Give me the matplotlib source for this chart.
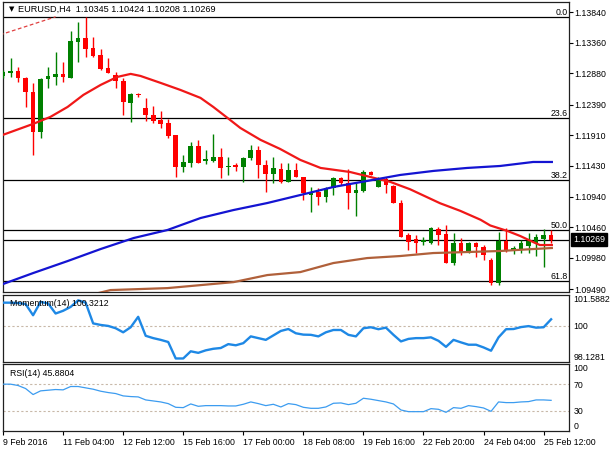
import numpy as np
import matplotlib
matplotlib.use("Agg")
import matplotlib.pyplot as plt
import matplotlib.transforms as mtransforms

# EURUSD H4 candles (open, high, low, close), one row per bar
opens = [1.12840, 1.12888, 1.12919, 1.12809, 1.12589, 1.11960, 1.12793, 1.12824, 1.12872, 1.12809,
         1.13376, 1.13439, 1.13286, 1.13171, 1.12967, 1.12856, 1.12761, 1.12416, 1.12557, 1.12338,
         1.12227, 1.12149, 1.12102, 1.11914, 1.11410, 1.11473, 1.11740, 1.11504, 1.11504, 1.11567,
         1.11410, 1.11441, 1.11410, 1.11551, 1.11677, 1.11441, 1.11300, 1.11378, 1.11174, 1.11362,
         1.11253, 1.10969, 1.11016, 1.10938, 1.11079, 1.11237, 1.11158, 1.11001, 1.11032, 1.11331,
         1.11095, 1.11221, 1.11111, 1.10843, 1.10340, 1.10277, 1.10230, 1.10214, 1.10434, 1.10356,
         1.09900, 1.10214, 1.10057, 1.10214, 1.10151, 1.09947, 1.09585, 1.10246, 1.10089, 1.10120,
         1.10167, 1.10214, 1.10277, 1.10345]
highs = [1.12935, 1.13124, 1.12982, 1.12824, 1.12730, 1.12809, 1.12982, 1.13219, 1.13061, 1.13549,
         1.13691, 1.13769, 1.13455, 1.13266, 1.13124, 1.12903, 1.12809, 1.12573, 1.12573, 1.12495,
         1.12369, 1.12290, 1.12165, 1.11914, 1.11599, 1.11803, 1.11835, 1.11677, 1.11929, 1.11709,
         1.11567, 1.11473, 1.11567, 1.11756, 1.11740, 1.11520, 1.11567, 1.11473, 1.11473, 1.11473,
         1.11253, 1.11095, 1.11079, 1.11095, 1.11253, 1.11253, 1.11378, 1.11158, 1.11362, 1.11345,
         1.11253, 1.11253, 1.11127, 1.10890, 1.10371, 1.10340, 1.10309, 1.10466, 1.10466, 1.10497,
         1.10371, 1.10293, 1.10230, 1.10230, 1.10183, 1.09978, 1.10387, 1.10450, 1.10167, 1.10261,
         1.10371, 1.10356, 1.10434, 1.10424]
lows = [1.12809, 1.12824, 1.12746, 1.12353, 1.11599, 1.11866, 1.12652, 1.12699, 1.12746, 1.12800,
        1.13061, 1.13137, 1.13137, 1.12935, 1.12888, 1.12652, 1.12227, 1.12118, 1.12510, 1.12133,
        1.12102, 1.12023, 1.11866, 1.11253, 1.11331, 1.11410, 1.11473, 1.11457, 1.11488, 1.11237,
        1.11284, 1.11347, 1.11174, 1.11520, 1.11237, 1.11016, 1.11158, 1.11158, 1.11174, 1.11253,
        1.10890, 1.10702, 1.10811, 1.10858, 1.10969, 1.11127, 1.10749, 1.10639, 1.11016, 1.11284,
        1.11095, 1.11001, 1.10843, 1.10309, 1.10104, 1.10057, 1.10183, 1.10199, 1.10183, 1.09900,
        1.09868, 1.10026, 1.10057, 1.09994, 1.09947, 1.09553, 1.09553, 1.10073, 1.10041, 1.10057,
        1.10057, 1.10010, 1.09837, 1.10208]
closes = [1.12903, 1.12919, 1.12809, 1.12589, 1.11960, 1.12793, 1.12840, 1.12872, 1.12824, 1.13392,
          1.13439, 1.13266, 1.13156, 1.12950, 1.12888, 1.12761, 1.12432, 1.12557, 1.12542, 1.12227,
          1.12133, 1.12086, 1.11898, 1.11410, 1.11488, 1.11740, 1.11473, 1.11536, 1.11567, 1.11394,
          1.11425, 1.11410, 1.11551, 1.11677, 1.11441, 1.11300, 1.11394, 1.11174, 1.11362, 1.11253,
          1.11001, 1.11001, 1.10938, 1.11079, 1.11237, 1.11158, 1.11001, 1.11048, 1.11331, 1.11284,
          1.11205, 1.11127, 1.10843, 1.10309, 1.10230, 1.10214, 1.10261, 1.10450, 1.10340, 1.09900,
          1.10214, 1.10057, 1.10214, 1.10151, 1.10026, 1.09585, 1.10246, 1.10104, 1.10136, 1.10214,
          1.10246, 1.10309, 1.10340, 1.10269]

# moving averages (bar position, price)
red_ma_x = [-0.4, 4.0, 6.3, 8.6, 10.7, 13.0, 15.2, 17.0, 18.3, 21.0, 23.6, 26.3, 28.0, 29.9, 31.6,
            34.3, 36.9, 39.6, 42.3, 46.2, 48.9, 51.6, 54.2, 58.2, 60.9, 63.6, 64.9, 67.2, 68.9,
            70.6, 71.5, 73.1]
red_ma_y = [1.11898, 1.12086, 1.12196, 1.12353, 1.12542, 1.12699, 1.12824, 1.12872, 1.12840,
            1.12730, 1.12621, 1.12495, 1.12353, 1.12180, 1.12023, 1.11835, 1.11693, 1.11520,
            1.11394, 1.11331, 1.11253, 1.11174, 1.11060, 1.10840, 1.10720, 1.10580, 1.10490,
            1.10403, 1.10324, 1.10230, 1.10183, 1.10183]
blue_ma_x = [-0.4, 4.0, 8.6, 13.0, 17.4, 21.9, 26.3, 30.7, 35.2, 39.6, 44.0, 48.5, 52.9, 57.3,
             61.8, 66.2, 70.6, 73.1]
blue_ma_y = [1.09553, 1.09742, 1.09931, 1.10120, 1.10293, 1.10419, 1.10607, 1.10733, 1.10843,
             1.10969, 1.11095, 1.11190, 1.11284, 1.11347, 1.11394, 1.11425, 1.11488, 1.11488]
brown_ma_x = [11.6, 14.3, 21.9, 26.3, 30.7, 35.2, 39.6, 44.0, 48.5, 52.9, 57.3, 61.8, 66.2, 70.6, 73.1]
brown_ma_y = [1.09396, 1.09475, 1.09506, 1.09553, 1.09600, 1.09711, 1.09758, 1.09900, 1.09978,
              1.10010, 1.10057, 1.10073, 1.10089, 1.10120, 1.10136]

# dashed trendline at top left
trend_x = [-0.4, 7.0]
trend_y = [1.13486, 1.13769]

# fibonacci retracement
fib_high = 1.13769
fib_low = 1.07057
fib_levels = [0.0, 23.6, 38.2, 50.0, 61.8]

last_price = 1.10269
price_ticks = [1.13840, 1.13360, 1.12880, 1.12390, 1.11910, 1.11430, 1.10940, 1.10460, 1.09980, 1.09490]

momentum = [101.18, 101.18, 101.16, 101.11, 100.53, 101.22, 101.14, 100.62, 100.76, 100.96,
            101.30, 101.18, 100.11, 100.03, 99.98, 99.86, 99.65, 99.91, 100.45, 99.47,
            99.35, 99.26, 99.15, 98.30, 98.30, 98.67, 98.59, 98.72, 98.80, 98.84,
            99.04, 98.98, 99.09, 99.44, 99.35, 99.26, 99.49, 99.72, 99.82, 99.60,
            99.53, 99.52, 99.44, 99.65, 99.77, 99.77, 99.52, 99.44, 99.86, 99.91,
            99.81, 99.89, 99.52, 99.18, 99.31, 99.35, 99.35, 99.39, 99.21, 98.90,
            99.26, 99.13, 99.01, 99.01, 98.87, 98.70, 99.39, 99.81, 99.82, 99.92,
            99.97, 99.89, 99.91, 100.3212]
rsi = [70.0, 70.0, 68.0, 63.5, 54.5, 60.0, 61.0, 62.0, 61.5, 66.5,
       66.5, 64.5, 62.5, 59.5, 57.5, 56.0, 52.5, 51.5, 51.0, 46.5,
       45.0, 43.5, 41.0, 35.5, 35.0, 40.5, 37.0, 38.0, 38.0, 38.0,
       37.5, 37.5, 40.0, 43.5, 41.0, 38.0, 40.0, 36.0, 41.0, 39.5,
       35.5, 34.0, 34.0, 36.0, 41.5, 42.0, 39.5, 41.5, 49.0, 47.5,
       45.5, 43.5, 40.5, 31.5, 29.0, 29.0, 29.0, 33.5, 32.5, 28.0,
       35.0, 34.0, 38.0, 36.5, 34.5, 29.5, 43.5, 42.5, 42.5, 43.5,
       44.0, 46.5, 46.5, 45.8804]

date_pos = [0, 8, 16, 24, 32, 40, 48, 56, 64, 72]
date_labels = ["9 Feb 2016", "11 Feb 04:00", "12 Feb 12:00", "15 Feb 16:00", "17 Feb 00:00",
               "18 Feb 08:00", "19 Feb 16:00", "22 Feb 20:00", "24 Feb 04:00", "25 Feb 12:00"]

FS = 6.3
plt.rcParams['font.family'] = ['Liberation Sans', 'DejaVu Sans']
plt.rcParams['font.size'] = FS

fig = plt.figure(figsize=(6.1, 4.5), dpi=100)
ax = fig.add_axes([0.005, 0.351, 0.928, 0.645])
ax_m = fig.add_axes([0.005, 0.196, 0.928, 0.149])
ax_r = fig.add_axes([0.005, 0.042, 0.928, 0.149])

x_lim = (0.0, 75.4)
n = len(closes)
idx = np.arange(n)
blend = mtransforms.blended_transform_factory(ax.transAxes, ax.transData)

# ---- price panel ----
o = np.array(opens); h = np.array(highs); l = np.array(lows); c = np.array(closes)
up = c >= o
cols = np.where(up, "#008000", "#ff0000")
ax.vlines(idx, l, h, colors=cols, linewidth=1.0, zorder=3)
body_bottom = np.minimum(o, c)
body_h = np.maximum(np.abs(c - o), 0.00012)
ax.bar(idx, body_h, bottom=body_bottom, width=0.62, color=cols, linewidth=0, zorder=4)

ax.plot(red_ma_x, red_ma_y, color="#f01818", lw=1.6, zorder=5)
ax.plot(blue_ma_x, blue_ma_y, color="#1414d2", lw=1.6, zorder=5)
ax.plot(brown_ma_x, brown_ma_y, color="#b0603a", lw=1.6, zorder=5)
ax.plot(trend_x, trend_y, color="#e04040", lw=0.9, ls=(0, (3, 2)), zorder=5)

fib_rng = fib_high - fib_low
for lev in fib_levels:
    py = fib_high - fib_rng * lev / 100.0
    ax.axhline(py, color="black", lw=0.9, zorder=2)
    ax.text(0.997, py, f"{lev:.1f}", transform=blend,
            ha="right", va="bottom", fontsize=FS, zorder=6)
ax.axhline(last_price, color="black", lw=0.9, zorder=2)

ax.set_xlim(*x_lim)
ax.set_ylim(1.09444, 1.14005)
ax.yaxis.tick_right()
ax.set_yticks(price_ticks)
ax.set_yticklabels([f"{p:.5f}" for p in price_ticks])
ax.set_xticks([])
ax.tick_params(axis="y", length=3, width=0.8, pad=1, labelsize=FS)
ax.text(1.007, last_price, f"{last_price:.5f}", transform=blend,
        ha="left", va="center", color="white", fontsize=FS, zorder=7, clip_on=False,
        bbox=dict(boxstyle="square,pad=0.2", fc="black", ec="black"))
ax.text(0.010, 0.986, "\u25bc", transform=ax.transAxes, ha="left", va="top",
        fontsize=5, family="DejaVu Sans")
ax.text(0.027, 0.988, f"EURUSD,H4  {opens[-1]:.5f} {highs[-1]:.5f} {lows[-1]:.5f} {closes[-1]:.5f}",
        transform=ax.transAxes, ha="left", va="top", fontsize=FS + 0.3)

# ---- momentum panel ----
ax_m.plot(idx, momentum, color="#1e88e5", lw=1.7, zorder=3)
ax_m.axhline(100, color="#c8b8a8", lw=0.8, ls=(0, (2, 2)), zorder=1)
ax_m.set_xlim(*x_lim)
ax_m.set_ylim(98.1281, 101.5882)
ax_m.yaxis.tick_right()
ax_m.set_yticks([101.5882, 100, 98.1281])
ax_m.set_yticklabels(["101.5882", "100", "98.1281"])
ax_m.tick_params(axis="y", length=0, pad=3, labelsize=FS)
labs = ax_m.get_yticklabels()
labs[0].set_va("top")
labs[2].set_va("bottom")
ax_m.set_xticks([])
ax_m.text(0.012, 0.93, f"Momentum(14) {momentum[-1]:.4f}", transform=ax_m.transAxes,
          ha="left", va="top", fontsize=FS, zorder=5)

# ---- RSI panel ----
ax_r.plot(idx, rsi, color="#3c9cf0", lw=0.9, zorder=3)
for lvl in (70, 30):
    ax_r.axhline(lvl, color="#c8b8a8", lw=0.8, ls=(0, (2, 2)), zorder=1)
ax_r.set_xlim(*x_lim)
ax_r.set_ylim(0, 100)
ax_r.yaxis.tick_right()
ax_r.set_yticks([100, 70, 30, 0])
ax_r.set_yticklabels(["100", "70", "30", "0"])
ax_r.tick_params(axis="y", length=0, pad=3, labelsize=FS)
rl = ax_r.get_yticklabels()
rl[0].set_va("top")
rl[3].set_va("bottom")
ax_r.text(0.012, 0.93, f"RSI(14) {rsi[-1]:.4f}", transform=ax_r.transAxes,
          ha="left", va="top", fontsize=FS, zorder=5)
ax_r.set_xticks(date_pos)
ax_r.set_xticklabels(date_labels)
ax_r.tick_params(axis="x", length=3, width=0.8, pad=2, labelsize=FS)
for t in ax_r.get_xticklabels():
    t.set_ha("left")

for a in (ax, ax_m, ax_r):
    for s in a.spines.values():
        s.set_linewidth(0.9)
        s.set_color("#202020")

fig.savefig("out.png", dpi=100)
